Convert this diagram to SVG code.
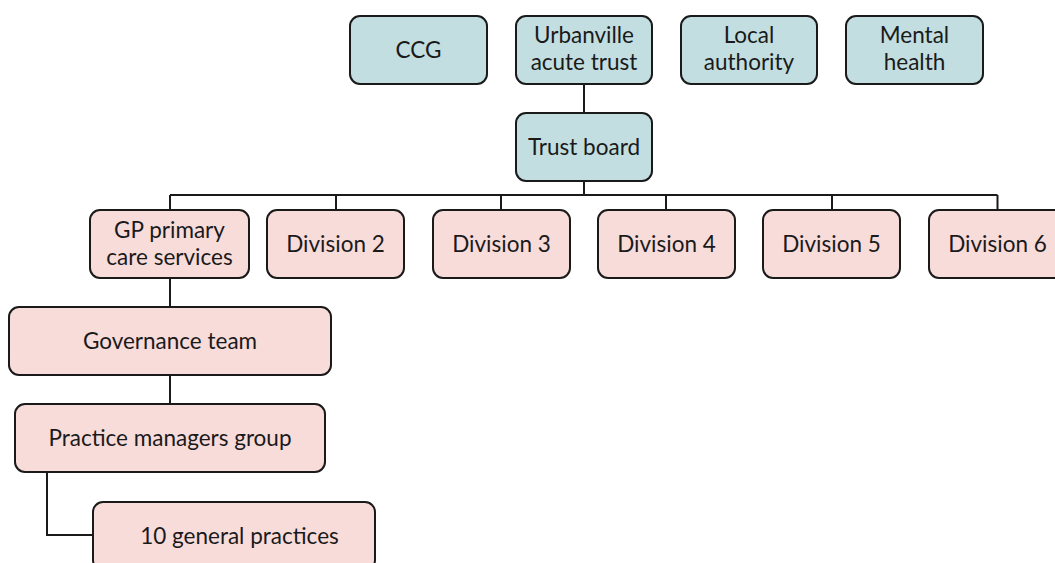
<svg xmlns="http://www.w3.org/2000/svg" width="1055" height="563" viewBox="0 0 1055 563">
  <style>
    .box { stroke: #1a1a1a; stroke-width: 2; }
    .org { fill: #c2dee0; }
    .unit { fill: #f8dcda; }
    .lbl { font-family: Lato, "Liberation Sans", sans-serif; font-size: 22.5px; fill: #1a1a1a; text-anchor: middle; }
    .wire { fill: none; stroke: #1a1a1a; stroke-width: 2; }
  </style>
  <rect width="1055" height="563" fill="#ffffff"/>

  <!-- connectors -->
  <g id="connectors" class="wire">
    <path d="M584 84V113"/>
    <path d="M584 181V195"/>
    <path d="M170 195H997.5"/>
    <path d="M170 195V210M336 195V210M501 195V210M666 195V210M832 195V210M997.5 195V210"/>
    <path d="M170 278V307"/>
    <path d="M170 375V404"/>
    <path d="M47 472V535H93"/>
  </g>

  <!-- partner organisations -->
  <g id="ccg">
    <rect class="box org" x="350" y="16" width="137" height="68" rx="10"/>
    <text class="lbl" x="418.5" y="58">CCG</text>
  </g>
  <g id="urbanville-acute-trust">
    <rect class="box org" x="516" y="16" width="136" height="68" rx="10"/>
    <text class="lbl" x="584" y="43">Urbanville</text>
    <text class="lbl" x="584" y="70">acute trust</text>
  </g>
  <g id="local-authority">
    <rect class="box org" x="681" y="16" width="136" height="68" rx="10"/>
    <text class="lbl" x="749" y="43">Local</text>
    <text class="lbl" x="749" y="70">authority</text>
  </g>
  <g id="mental-health">
    <rect class="box org" x="846" y="16" width="137" height="68" rx="10"/>
    <text class="lbl" x="914.5" y="43">Mental</text>
    <text class="lbl" x="914.5" y="70">health</text>
  </g>
  <g id="trust-board">
    <rect class="box org" x="516" y="113" width="136" height="68" rx="10"/>
    <text class="lbl" x="584" y="155">Trust board</text>
  </g>

  <!-- divisions -->
  <g id="gp-primary-care">
    <rect class="box unit" x="90" y="210" width="159" height="68" rx="10"/>
    <text class="lbl" x="169.5" y="238">GP primary</text>
    <text class="lbl" x="169.5" y="265">care services</text>
  </g>
  <g id="division-2">
    <rect class="box unit" x="267" y="210" width="137" height="68" rx="10"/>
    <text class="lbl" x="335.5" y="252">Division 2</text>
  </g>
  <g id="division-3">
    <rect class="box unit" x="433" y="210" width="137" height="68" rx="10"/>
    <text class="lbl" x="501.5" y="252">Division 3</text>
  </g>
  <g id="division-4">
    <rect class="box unit" x="598" y="210" width="137" height="68" rx="10"/>
    <text class="lbl" x="666.5" y="252">Division 4</text>
  </g>
  <g id="division-5">
    <rect class="box unit" x="763" y="210" width="137" height="68" rx="10"/>
    <text class="lbl" x="831.5" y="252">Division 5</text>
  </g>
  <g id="division-6">
    <rect class="box unit" x="929" y="210" width="137" height="68" rx="10"/>
    <text class="lbl" x="997.5" y="252">Division 6</text>
  </g>

  <!-- primary care chain -->
  <g id="governance-team">
    <rect class="box unit" x="9" y="307" width="322" height="68" rx="10"/>
    <text class="lbl" x="170" y="349">Governance team</text>
  </g>
  <g id="practice-managers-group">
    <rect class="box unit" x="15" y="404" width="310" height="68" rx="10"/>
    <text class="lbl" x="170" y="446">Practice managers group</text>
  </g>
  <g id="general-practices">
    <rect class="box unit" x="93" y="502" width="282" height="68" rx="10"/>
    <text class="lbl" x="239.5" y="544">10 general practices</text>
  </g>
</svg>
